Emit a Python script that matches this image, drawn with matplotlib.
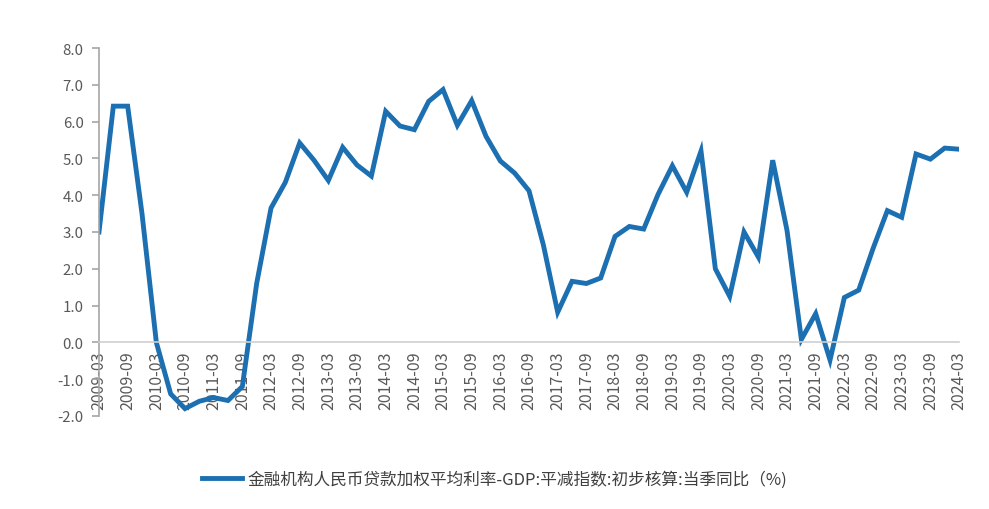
import numpy as np
import matplotlib.pyplot as plt

plt.rcParams['font.family'] = ['Noto Sans CJK SC', 'DejaVu Sans']

# 季度数据 2009-03 ~ 2024-03
quarters = [f'{y}-{m:02d}' for y in range(2009, 2025) for m in (3, 6, 9, 12)][:61]

valores = [3.0, 6.42, 6.42, 3.5,
           0.0, -1.4, -1.8, -1.6,
           -1.5, -1.58, -1.2, 1.6,
           3.65, 4.35, 5.42, 4.95,
           4.4, 5.3, 4.82, 4.52,
           6.28, 5.88, 5.78, 6.55,
           6.87, 5.9, 6.57, 5.6,
           4.93, 4.6, 4.12, 2.65,
           0.82, 1.66, 1.6, 1.75,
           2.88, 3.15, 3.08, 4.02,
           4.8, 4.08, 5.2, 2.0,
           1.25, 3.0, 2.32, 4.95,
           3.04, 0.08, 0.78, -0.48,
           1.22, 1.42, 2.55, 3.58,
           3.4, 5.12, 4.98, 5.28,
           5.25]

etiqueta = '金融机构人民币贷款加权平均利率-GDP:平减指数:初步核算:当季同比（%)'

fig = plt.figure(figsize=(9.89, 5.10), dpi=100)
ax = fig.add_axes([0.1001, 0.1824, 0.8696, 0.7215])

for s in ['top', 'right']:
    ax.spines[s].set_visible(False)
ax.spines['bottom'].set_position(('data', 0))
ax.spines['bottom'].set_color('#d0d0d0')
ax.spines['bottom'].set_linewidth(1.2)
ax.spines['left'].set_color('#a6a6a6')
ax.spines['left'].set_linewidth(1.2)

x = np.arange(len(valores))
ax.plot(x, valores, color='#1c6fb0', lw=3.5, solid_joinstyle='miter',
        label=etiqueta)

ax.set_xlim(0, len(valores) - 1)
ax.set_ylim(-2, 8)
ax.set_yticks(np.arange(-2, 9, 1))
ax.set_yticklabels([f'{v:.1f}' for v in np.arange(-2, 9, 1)])
ax.set_xticks(x[::2])
ax.set_xticklabels(quarters[::2])

ax.tick_params(axis='y', colors='#a6a6a6', labelcolor='#595959',
               labelsize=10.8, length=5, width=1.2, pad=6)
ax.tick_params(axis='x', length=0, labelcolor='#595959', labelsize=11.5,
               pad=6, labelrotation=90)

fig.legend(loc='center', bbox_to_anchor=(0.5, 0.059), frameon=False,
           fontsize=12, handlelength=2.4, handletextpad=0.3,
           labelcolor='#404040')

fig.savefig('out.png', dpi=100)
